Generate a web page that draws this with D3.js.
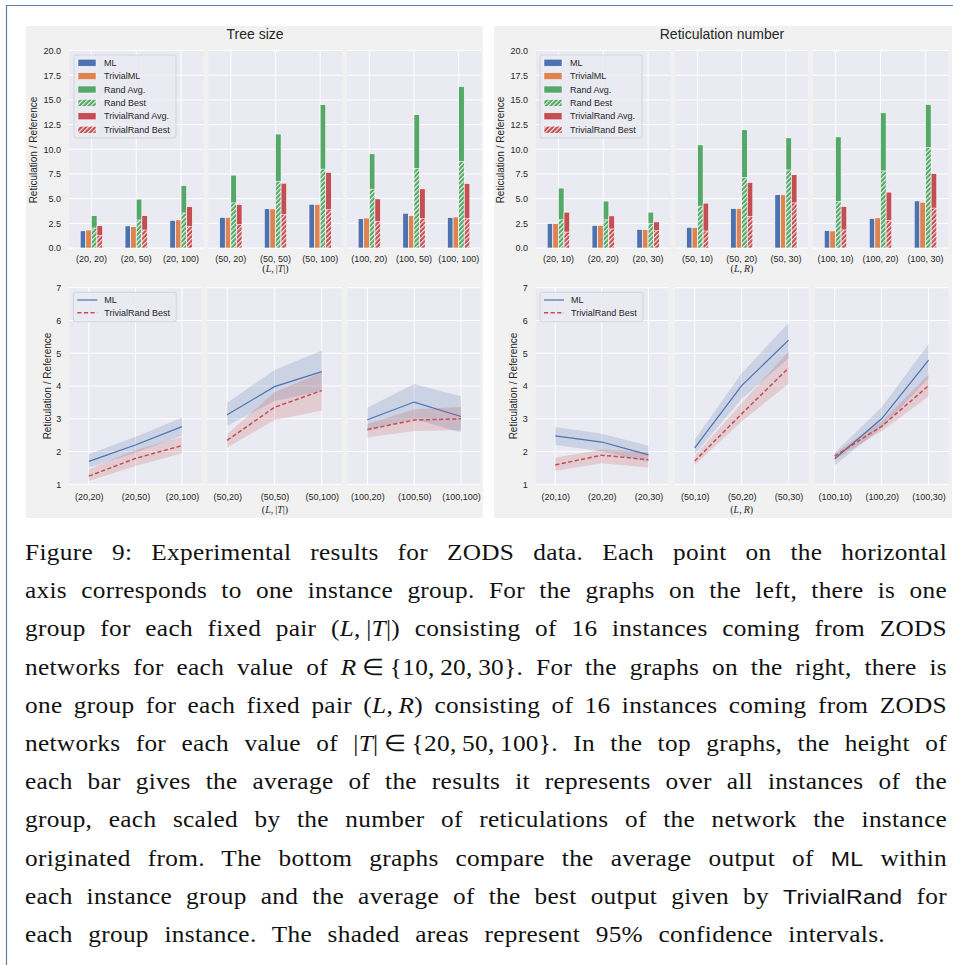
<!DOCTYPE html>
<html><head><meta charset="utf-8">
<script src="https://cdn.jsdelivr.net/npm/d3@7"></script>
<style>body{margin:0;background:#fff}</style>
</head><body>
<svg id="c" width="953" height="965"></svg>
<script>
// ---------------- DATA ----------------
const treeLabels = ["(20, 20)","(20, 50)","(20, 100)","(50, 20)","(50, 50)","(50, 100)","(100, 20)","(100, 50)","(100, 100)"];
const treeLineLabels = ["(20,20)","(20,50)","(20,100)","(50,20)","(50,50)","(50,100)","(100,20)","(100,50)","(100,100)"];
const retLabels = ["(20, 10)","(20, 20)","(20, 30)","(50, 10)","(50, 20)","(50, 30)","(100, 10)","(100, 20)","(100, 30)"];
const retLineLabels = ["(20,10)","(20,20)","(20,30)","(50,10)","(50,20)","(50,30)","(100,10)","(100,20)","(100,30)"];

const barTicks = [0, 2.5, 5, 7.5, 10, 12.5, 15, 17.5, 20];
const lineTicks = [1, 2, 3, 4, 5, 6, 7];

// Tree size – bars
const treeML        = [1.74, 2.24, 2.80, 3.11, 3.97, 4.43, 2.98, 3.52, 3.08];
const treeTrivialML = [1.82, 2.17, 2.85, 3.11, 3.96, 4.43, 3.04, 3.28, 3.14];
const treeRandAvg   = [3.27, 4.95, 6.33, 7.38, 11.54, 14.52, 9.54, 13.50, 16.35];
const treeRandBest  = [2.02, 2.83, 3.55, 4.57, 6.73, 7.99, 5.96, 8.05, 8.76];
const treeTRAvg     = [2.25, 3.27, 4.18, 4.40, 6.56, 7.65, 4.97, 5.99, 6.53];
const treeTRBest    = [1.27, 1.82, 2.20, 2.36, 3.38, 3.87, 2.68, 2.97, 2.99];

// Tree size – lines with 95% CI
const treeLineML     = [1.70, 2.20, 2.76, 3.12, 3.98, 4.44, 2.97, 3.51, 3.07];
const treeLineMLLo   = [1.51, 1.96, 2.48, 2.79, 3.54, 3.85, 2.64, 2.99, 2.58];
const treeLineMLHi   = [1.92, 2.45, 3.03, 3.49, 4.49, 5.08, 3.34, 4.06, 3.69];
const treeLineTR     = [1.25, 1.79, 2.18, 2.34, 3.35, 3.86, 2.67, 2.96, 3.00];
const treeLineTRLo   = [1.10, 1.56, 1.95, 2.12, 2.96, 3.25, 2.43, 2.63, 2.66];
const treeLineTRHi   = [1.46, 2.05, 2.44, 2.53, 3.81, 4.41, 2.84, 3.29, 3.36];

// Reticulation number – bars
const retML        = [2.46, 2.28, 1.88, 2.10, 4.00, 5.40, 1.75, 2.99, 4.77];
const retTrivialML = [2.47, 2.30, 1.86, 2.07, 4.00, 5.39, 1.73, 3.05, 4.64];
const retRandAvg   = [6.07, 4.75, 3.63, 10.44, 11.97, 11.15, 11.25, 13.69, 14.54];
const retRandBest  = [2.85, 2.85, 2.47, 4.24, 7.12, 7.90, 4.71, 7.80, 10.17];
const retTRAvg     = [3.63, 3.25, 2.64, 4.54, 6.64, 7.42, 4.20, 5.66, 7.53];
const retTRBest    = [1.61, 1.93, 1.75, 1.72, 3.18, 4.57, 1.83, 2.78, 4.04];

// Reticulation number – lines with 95% CI
const retLineML    = [2.48, 2.29, 1.90, 2.11, 4.01, 5.40, 1.78, 3.00, 4.79];
const retLineMLLo  = [2.20, 2.01, 1.68, 1.91, 3.60, 4.85, 1.58, 2.72, 4.24];
const retLineMLHi  = [2.75, 2.54, 2.18, 2.37, 4.39, 5.93, 1.96, 3.35, 5.28];
const retLineTR    = [1.59, 1.89, 1.75, 1.71, 3.15, 4.55, 1.86, 2.77, 4.01];
const retLineTRLo  = [1.41, 1.64, 1.51, 1.59, 2.92, 4.07, 1.76, 2.62, 3.68];
const retLineTRHi  = [1.81, 2.06, 1.98, 1.86, 3.48, 5.05, 1.94, 2.92, 4.34];

const barLegend = ["ML","TrivialML","Rand Avg.","Rand Best","TrivialRand Avg.","TrivialRand Best"];
const lineLegend = ["ML","TrivialRand Best"];

// ---------------- STYLE ----------------
const BLUE="#4c72b0", ORANGE="#dd8452", GREEN="#55a868", RED="#c44e52";
const FONT="'Liberation Sans', Arial, Helvetica, sans-serif";
const SERIF="'Liberation Serif', 'Times New Roman', serif";
const TXT="#262626";
const AXBG="#eaeaf2";

const svg=d3.select("#c");
const defs=svg.append("defs");
function hatch(id,color){
  const s=3.3;
  const p=defs.append("pattern").attr("id",id).attr("patternUnits","userSpaceOnUse")
    .attr("width",s).attr("height",s).attr("patternTransform","rotate(45)");
  p.append("rect").attr("width",s).attr("height",s).attr("fill",color);
  p.append("line").attr("x1",0.6).attr("x2",0.6).attr("y1",-1).attr("y2",s+1)
    .attr("stroke","#fff").attr("stroke-width",1);
}
hatch("hG",GREEN); hatch("hR",RED);

// page frame and figure backgrounds
svg.append("path").attr("d","M6.5,965 V5.5 H953").attr("fill","none").attr("stroke","#5d7db1").attr("stroke-width",1.2);
svg.append("rect").attr("x",26).attr("y",26).attr("width",457).attr("height",492).attr("fill","#f1f1f1");
svg.append("rect").attr("x",494).attr("y",26).attr("width",458).attr("height",492).attr("fill","#f1f1f1");

function styleAxis(ax,size){
  ax.select(".domain").remove();
  ax.selectAll("text").attr("font-family",FONT).attr("font-size",size||9).attr("fill",TXT);
}

function yLabel(x,y){
  svg.append("text").attr("transform",`translate(${x},${y}) rotate(-90)`)
    .attr("text-anchor","middle").attr("dominant-baseline","central")
    .attr("font-family",FONT).attr("font-size",10).attr("fill",TXT)
    .text("Reticulation / Reference");
}

function mathLabel(cx,y,parts){
  const t=svg.append("text").attr("x",cx).attr("y",y).attr("text-anchor","middle")
    .attr("font-family",SERIF).attr("font-size",10).attr("fill",TXT);
  parts.forEach(p=>t.append("tspan").attr("font-style",p[1]?"italic":"normal").text(p[0]));
}

// ---------------- BAR CHARTS ----------------
function drawBarChart(cfg){
  const y=d3.scaleLinear().domain([0,20]).range([248,50.5]);
  const hues=["ML","TrivialML","Rand","TrivialRand"];
  const series=[
    {hue:"ML",vals:cfg.ml,fill:BLUE},
    {hue:"TrivialML",vals:cfg.tml,fill:ORANGE},
    {hue:"Rand",vals:cfg.ra,fill:GREEN},
    {hue:"Rand",vals:cfg.rb,fill:"url(#hG)"},
    {hue:"TrivialRand",vals:cfg.ta,fill:RED},
    {hue:"TrivialRand",vals:cfg.tb,fill:"url(#hR)"}
  ];
  cfg.panels.forEach((range,pi)=>{
    const idx=[0,1,2].map(j=>pi*3+j);
    const x=d3.scaleBand().domain(idx.map(i=>cfg.labels[i])).range(range);
    const bw=x.bandwidth();
    const pg=svg.append("g");
    pg.append("rect").attr("x",range[0]).attr("y",50.5).attr("width",range[1]-range[0]).attr("height",248-50.5).attr("fill",AXBG);
    pg.selectAll(null).data(barTicks).join("line")
      .attr("x1",range[0]).attr("x2",range[1]).attr("y1",d=>y(d)).attr("y2",d=>y(d))
      .attr("stroke","#fff").attr("stroke-width",1);
    pg.selectAll(null).data(x.domain()).join("line")
      .attr("x1",d=>x(d)+bw/2).attr("x2",d=>x(d)+bw/2).attr("y1",50.5).attr("y2",248)
      .attr("stroke","#fff").attr("stroke-width",1);
    const sub=d3.scaleBand().domain(hues).range([-bw*0.25,bw*0.25]);
    series.forEach(s=>{
      pg.selectAll(null).data(idx).join("rect")
        .attr("x",i=>x(cfg.labels[i])+bw/2+sub(s.hue))
        .attr("width",sub.bandwidth())
        .attr("y",i=>y(s.vals[i]))
        .attr("height",i=>y(0)-y(s.vals[i]))
        .attr("fill",s.fill).attr("stroke","#fff").attr("stroke-width",0.6);
    });
    const ax=pg.append("g").attr("transform","translate(0,248)")
      .call(d3.axisBottom(x).tickSize(0).tickPadding(8));
    styleAxis(ax,9);
    if(pi===0){
      const ay=pg.append("g").attr("transform",`translate(${range[0]},0)`)
        .call(d3.axisLeft(y).tickValues(barTicks).tickFormat(d3.format(".1f")).tickSize(0).tickPadding(8));
      styleAxis(ay,9);
    }
  });
  // legend
  const lx=cfg.legendX, ly=55;
  const lg=svg.append("g");
  lg.append("rect").attr("x",lx).attr("y",ly).attr("width",102).attr("height",83).attr("rx",2)
    .attr("fill",AXBG).attr("fill-opacity",0.8).attr("stroke","#cfcfd6").attr("stroke-width",0.8);
  const fills=[BLUE,ORANGE,GREEN,"url(#hG)",RED,"url(#hR)"];
  barLegend.forEach((name,k)=>{
    const cy=ly+7.7+k*13.4;
    lg.append("rect").attr("x",lx+4).attr("y",cy-3.5).attr("width",18).attr("height",7)
      .attr("fill",fills[k]).attr("stroke","#fff").attr("stroke-width",0.5);
    lg.append("text").attr("x",lx+30).attr("y",cy).attr("dominant-baseline","central")
      .attr("font-family",FONT).attr("font-size",9).attr("fill",TXT).text(name);
  });
  // title
  svg.append("text").attr("x",cfg.titleX).attr("y",39).attr("text-anchor","middle")
    .attr("font-family",FONT).attr("font-size",14).attr("fill",TXT).text(cfg.title);
}

// ---------------- LINE CHARTS ----------------
function drawLineChart(cfg){
  const y=d3.scaleLinear().domain([1,7]).range([484.3,287.7]);
  cfg.panels.forEach((range,pi)=>{
    const idx=[0,1,2].map(j=>pi*3+j);
    const x=d3.scalePoint().domain(idx.map(i=>cfg.labels[i])).range(range).padding(0.42);
    const pg=svg.append("g");
    pg.append("rect").attr("x",range[0]).attr("y",287.5).attr("width",range[1]-range[0]).attr("height",484.3-287.5).attr("fill",AXBG);
    pg.selectAll(null).data(lineTicks).join("line")
      .attr("x1",range[0]).attr("x2",range[1]).attr("y1",d=>y(d)).attr("y2",d=>y(d))
      .attr("stroke","#fff").attr("stroke-width",1);
    pg.selectAll(null).data(x.domain()).join("line")
      .attr("x1",d=>x(d)).attr("x2",d=>x(d)).attr("y1",287.5).attr("y2",484.3)
      .attr("stroke","#fff").attr("stroke-width",1);
    const X=i=>x(cfg.labels[i]);
    const area=(lo,hi)=>d3.area().x(X).y0(i=>y(lo[i])).y1(i=>y(hi[i]));
    const line=v=>d3.line().x(X).y(i=>y(v[i]));
    pg.append("path").attr("d",area(cfg.mlLo,cfg.mlHi)(idx)).attr("fill",BLUE).attr("fill-opacity",0.2);
    pg.append("path").attr("d",line(cfg.ml)(idx)).attr("fill","none").attr("stroke",BLUE).attr("stroke-width",1.2);
    pg.append("path").attr("d",area(cfg.trLo,cfg.trHi)(idx)).attr("fill",RED).attr("fill-opacity",0.2);
    pg.append("path").attr("d",line(cfg.tr)(idx)).attr("fill","none").attr("stroke",RED).attr("stroke-width",1.5).attr("stroke-dasharray","4.2,2.4");
    const ax=pg.append("g").attr("transform","translate(0,484.3)")
      .call(d3.axisBottom(x).tickSize(0).tickPadding(9));
    styleAxis(ax,9);
    if(pi===0){
      const ay=pg.append("g").attr("transform",`translate(${range[0]},0)`)
        .call(d3.axisLeft(y).tickValues(lineTicks).tickFormat(d3.format("d")).tickSize(0).tickPadding(8));
      styleAxis(ay,9);
    }
  });
  const lx=cfg.legendX, ly=292.3;
  const lg=svg.append("g");
  lg.append("rect").attr("x",lx).attr("y",ly).attr("width",103).attr("height",29.4).attr("rx",2)
    .attr("fill",AXBG).attr("fill-opacity",0.8).attr("stroke","#cfcfd6").attr("stroke-width",0.8);
  lineLegend.forEach((name,k)=>{
    const cy=ly+7.7+k*12.7;
    lg.append("line").attr("x1",lx+4).attr("x2",lx+24).attr("y1",cy).attr("y2",cy)
      .attr("stroke",k?RED:BLUE).attr("stroke-width",k?1.5:1.2).attr("stroke-dasharray",k?"4.2,2.4":null);
    lg.append("text").attr("x",lx+31).attr("y",cy).attr("dominant-baseline","central")
      .attr("font-family",FONT).attr("font-size",9).attr("fill",TXT).text(name);
  });
}

// ---------------- DRAW ----------------
drawBarChart({labels:treeLabels,ml:treeML,tml:treeTrivialML,ra:treeRandAvg,rb:treeRandBest,ta:treeTRAvg,tb:treeTRBest,
  panels:[[69,203.5],[208.5,342.5],[347,481]],legendX:74,title:"Tree size",titleX:255});
drawBarChart({labels:retLabels,ml:retML,tml:retTrivialML,ra:retRandAvg,rb:retRandBest,ta:retTRAvg,tb:retTRBest,
  panels:[[536,670.5],[675.5,808],[813,948]],legendX:540,title:"Reticulation number",titleX:722});
drawLineChart({labels:treeLineLabels,ml:treeLineML,mlLo:treeLineMLLo,mlHi:treeLineMLHi,tr:treeLineTR,trLo:treeLineTRLo,trHi:treeLineTRHi,
  panels:[[69.3,201.5],[207.3,341.7],[347.7,480.7]],legendX:73.3});
drawLineChart({labels:retLineLabels,ml:retLineML,mlLo:retLineMLLo,mlHi:retLineMLHi,tr:retLineTR,trLo:retLineTRLo,trHi:retLineTRHi,
  panels:[[535.7,668],[675,808.3],[815,948.3]],legendX:540});

yLabel(33.5,150); yLabel(500,150); yLabel(47.7,386); yLabel(513.5,386);
mathLabel(275.5,272,[["(",0],["L",1],[",\u2009|",0],["T",1],["|)",0]]);
mathLabel(742,272,[["(",0],["L",1],[",\u2009",0],["R",1],[")",0]]);
mathLabel(275,513,[["(",0],["L",1],[",\u2009|",0],["T",1],["|)",0]]);
mathLabel(741.7,513,[["(",0],["L",1],[",\u2009",0],["R",1],[")",0]]);

// ---------------- CAPTION ----------------
const capLines=[
  [["Figure 9: Experimental results for ZODS data. Each point on the horizontal","r"]],
  [["axis corresponds to one instance group. For the graphs on the left, there is one","r"]],
  [["group for each fixed pair (","r"],["L","i"],[",\u2009|","r"],["T","i"],["|) consisting of 16 instances coming from ZODS","r"]],
  [["networks for each value of ","r"],["R","i"],["\u2009\u2208\u2009{10,\u200920,\u200930}. For the graphs on the right, there is","r"]],
  [["one group for each fixed pair (","r"],["L","i"],[",\u2009","r"],["R","i"],[") consisting of 16 instances coming from ZODS","r"]],
  [["networks for each value of |","r"],["T","i"],["|\u2009\u2208\u2009{20,\u200950,\u2009100}. In the top graphs, the height of","r"]],
  [["each bar gives the average of the results it represents over all instances of the","r"]],
  [["group, each scaled by the number of reticulations of the network the instance","r"]],
  [["originated from. The bottom graphs compare the average output of ","r"],["ML","s"],[" within","r"]],
  [["each instance group and the average of the best output given by ","r"],["TrivialRand","s"],[" for","r"]],
  [["each group instance. The shaded areas represent 95% confidence intervals.","r"]]
];
const capX=25, capRight=947, capY0=560, capStep=38.2, capSX=1.1;
capLines.forEach((segs,li)=>{
  const g=svg.append("g").attr("transform",`translate(${capX},${capY0+li*capStep}) scale(${capSX},1)`);
  const t=g.append("text").attr("x",0).attr("y",0)
    .attr("font-family",SERIF).attr("font-size",23).attr("fill","#111")
    .style("letter-spacing","0.3px");
  segs.forEach(s=>{
    const sp=t.append("tspan").text(s[0]);
    if(s[1]==="i") sp.attr("font-style","italic");
    if(s[1]==="s") sp.attr("font-family",FONT).attr("font-size",21);
  });
  const full=segs.map(s=>s[0]).join("");
  const nSp=(full.match(/ /g)||[]).length;
  const w=t.node().getComputedTextLength();
  const target=((li===capLines.length-1)?(885-capX):(capRight-capX))/capSX;
  if(nSp>0) t.style("word-spacing",((target-w)/nSp)+"px");
});
</script>
</body></html>
